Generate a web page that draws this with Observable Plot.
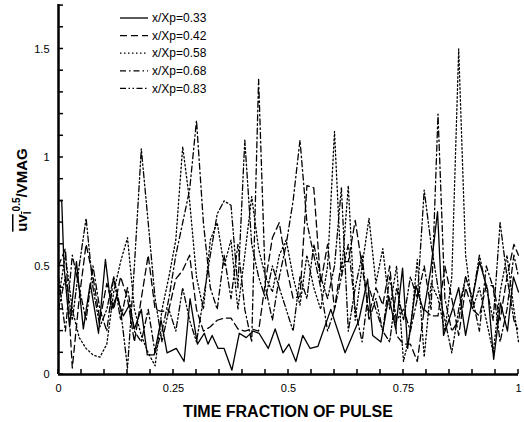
<!DOCTYPE html>
<html><head><meta charset="utf-8">
<script src="https://cdn.jsdelivr.net/npm/d3@7"></script>
<script src="https://cdn.jsdelivr.net/npm/@observablehq/plot@0.6"></script>
<style>
body{margin:0;background:#fff;}
#chart svg{display:block;}
</style></head><body><div id="chart"></div>
<script>
const seriesLabels = ["x/Xp=0.33","x/Xp=0.42","x/Xp=0.58","x/Xp=0.68","x/Xp=0.83"];
const xTickLabels = [0, 0.25, 0.5, 0.75, 1];
const yTickLabels = [0, 0.5, 1, 1.5];
const xMinorTicks = [0,0.05,0.1,0.15,0.2,0.25,0.3,0.35,0.4,0.45,0.5,0.55,0.6,0.65,0.7,0.75,0.8,0.85,0.9,0.95,1];
const yMinorTicks = [0,0.1,0.2,0.3,0.4,0.5,0.6,0.7,0.8,0.9,1,1.1,1.2,1.3,1.4,1.5,1.6,1.7];

// x/Xp=0.33 (solid), traced points
const t33 = [0,0.007,0.012,0.024,0.039,0.054,0.069,0.087,0.102,0.115,0.126,0.141,0.154,0.165,0.180,0.193,0.208,0.223,0.236,0.256,0.273,0.286,0.302,0.317,0.325,0.334,0.347,0.360,0.377,0.393,0.408,0.423,0.436,0.456,0.471,0.488,0.501,0.516,0.531,0.547,0.564,0.592,0.623,0.653,0.672,0.683,0.701,0.718,0.733,0.748,0.759,0.777,0.794,0.809,0.824,0.837,0.855,0.870,0.885,0.915,0.933,0.946,0.961,0.976,0.989,1.0];
const v33 = [0.80,0.80,0.50,0.22,0.52,0.21,0.42,0.19,0.53,0.30,0.36,0.27,0.32,0.21,0.30,0.09,0.09,0.25,0.10,0.12,0.06,0.35,0.14,0.19,0.14,0.18,0.12,0.12,0.02,0.19,0.17,0.20,0.19,0.12,0.21,0.10,0.14,0.06,0.18,0.12,0.13,0.30,0.10,0.25,0.44,0.18,0.15,0.36,0.21,0.49,0.12,0.41,0.29,0.48,0.75,0.18,0.29,0.40,0.18,0.52,0.39,0.07,0.33,0.20,0.45,0.38];

// shared sampling for the other stations
const tGrid = [0,0.015,0.03,0.045,0.06,0.075,0.09,0.105,0.12,0.135,0.15,0.165,0.18,0.195,0.21,0.225,0.24,0.255,0.27,0.285,0.3,0.315,0.33,0.345,0.36,0.375,0.39,0.405,0.42,0.435,0.45,0.465,0.48,0.495,0.51,0.525,0.54,0.555,0.57,0.585,0.6,0.615,0.63,0.645,0.66,0.675,0.69,0.705,0.72,0.735,0.75,0.765,0.78,0.795,0.81,0.825,0.84,0.855,0.87,0.885,0.9,0.915,0.93,0.945,0.96,0.975,0.99,1];
const v42 = [0.50,0.58,0.03,0.35,0.60,0.45,0.25,0.42,0.30,0.45, 0.35,0.15,0.35,0.55,0.30,0.29,0.30,0.44,0.48,0.55, 0.30,0.20,0.22,0.25,0.26,0.26,0.21,0.20,0.21,0.20, 0.43,0.63,0.70,0.50,0.35,0.36,0.87,0.86,0.42,0.60, 0.30,0.52,0.52,0.71,0.50,0.28,0.40,0.32,0.50,0.18, 0.14,0.14,0.06,0.30,0.27,0.27,0.50,0.35,0.18,0.40, 0.30,0.27,0.41,0.41,0.25,0.45,0.60,0.55];
const v58 = [0.35,0.55,0.30,0.17,0.12,0.09,0.08,0.14,0.38,0.52, 0.63,0.30,0.18,0.10,0.04,0.30,0.45,0.62,1.05,0.80, 0.45,0.30,0.62,0.70,0.50,0.62,0.30,0.55,0.82,0.58, 0.45,0.38,0.55,0.62,0.45,0.32,0.55,0.40,0.30,0.50, 1.12,0.45,0.87,0.25,0.50,0.72,0.42,0.58,0.30,0.50, 0.06,0.20,0.53,0.08,0.42,0.35,0.20,0.45,1.50,0.55, 0.30,0.40,0.25,0.10,0.38,0.55,0.30,0.15];
const v68 = [0.45,0.20,0.55,0.40,0.25,0.50,0.30,0.20,0.45,0.25, 0.40,0.20,0.15,0.30,0.10,0.20,0.35,0.55,0.70,0.85, 1.17,0.70,0.40,0.30,0.55,0.35,0.60,0.30,0.15,1.36, 0.40,0.25,0.45,0.60,0.80,1.08,0.70,0.55,0.40,0.20, 0.30,0.45,0.60,0.30,0.15,0.40,0.30,0.20,0.45,0.25, 0.30,0.20,0.35,0.50,0.30,1.20,0.35,0.20,0.25,0.45, 0.35,0.20,0.50,0.40,0.15,0.30,0.55,0.45];
const v83 = [0.30,0.45,0.25,0.50,0.72,0.40,0.22,0.30,0.45,0.30, 0.03,0.50,1.04,0.70,0.35,0.15,0.30,0.20,0.40,0.25, 0.15,0.35,0.55,0.74,0.80,0.78,0.40,1.08,0.60,0.45, 0.35,0.50,0.40,0.30,0.20,0.45,0.35,0.60,0.45,0.35, 0.50,0.86,0.20,0.40,0.55,0.25,0.35,0.20,0.15,0.40, 0.25,0.45,0.35,0.85,0.60,0.40,0.25,0.10,0.30,0.45, 0.35,0.55,0.40,0.25,0.70,0.45,0.25,0.20];

const dashes = [null, "7,4", "1.5,2.5", "6,3,1.5,3", "6,2.5,1.5,2.5,1.5,2.5"];
const seriesData = [
  [t33, v33], [tGrid, v42], [tGrid, v58], [tGrid, v68], [tGrid, v83]
].map(([ts, vs], i) => ts.map((t, j) => ({t, v: vs[j], s: seriesLabels[i]})));

const font = "'Liberation Sans', Arial, sans-serif";
const chart = Plot.plot({
  width: 524, height: 422,
  marginTop: 4, marginBottom: 48, marginLeft: 58, marginRight: 6,
  style: {fontFamily: font, fontSize: "11px", color: "black", background: "white"},
  x: {domain: [0, 1]},
  y: {domain: [0, 1.705]},
  marks: [
    ...seriesData.map((d, i) => Plot.line(d, {x: "t", y: "v", stroke: "black", strokeWidth: 1.3, strokeDasharray: dashes[i]})),
    Plot.axisX(xTickLabels, {tickSize: 0, tickPadding: 10, label: null, tickFormat: d => String(d)}),
    Plot.axisY(yTickLabels, {tickSize: 0, tickPadding: 9, label: null, tickFormat: d => String(d)}),
    Plot.ruleX([0], {strokeWidth: 2.5}),
    Plot.ruleY([0], {strokeWidth: 2.5})
  ]
});
document.getElementById("chart").appendChild(chart);

const svg = d3.select(chart);
const sx = chart.scale("x"), sy = chart.scale("y");
const x0 = sx.apply(0), y0 = sy.apply(0);
// minor ticks (inward)
svg.append("g").selectAll("line").data(xMinorTicks).join("line")
  .attr("x1", d => sx.apply(d)).attr("x2", d => sx.apply(d))
  .attr("y1", y0).attr("y2", y0 - 5).attr("stroke", "black").attr("stroke-width", 1.5);
svg.append("g").selectAll("line").data(yMinorTicks).join("line")
  .attr("x1", x0).attr("x2", x0 + 5)
  .attr("y1", d => sy.apply(d)).attr("y2", d => sy.apply(d)).attr("stroke", "black").attr("stroke-width", 1.5);

// x title
svg.append("text").attr("x", (sx.apply(0) + sx.apply(1)) / 2).attr("y", 417)
  .attr("text-anchor", "middle").attr("font-family", font).attr("font-weight", "bold")
  .attr("font-size", 16).text("TIME FRACTION OF PULSE");

// y title
const yt = svg.append("text").attr("transform", "translate(27,190) rotate(-90)")
  .attr("text-anchor", "middle").attr("font-family", font).attr("font-weight", "bold").attr("font-size", 15);
const ov = yt.append("tspan").style("text-decoration", "overline");
ov.append("tspan").text("uv");
ov.append("tspan").attr("font-size", 10).attr("dy", 4).text("l");
yt.append("tspan").attr("font-size", 10).attr("dy", -11).text("0.5");
yt.append("tspan").attr("dy", 7).text("/VMAG");

// legend
const lg = svg.append("g").attr("font-family", font).attr("font-size", 12).attr("text-anchor", "start");
seriesLabels.forEach((lab, i) => {
  const y = 18 + i * 17.6;
  lg.append("line").attr("x1", 120).attr("x2", 148).attr("y1", y).attr("y2", y)
    .attr("stroke", "black").attr("stroke-width", 1.3).attr("stroke-dasharray", dashes[i]);
  lg.append("text").attr("x", 152).attr("y", y).attr("dy", "0.35em").text(lab);
});
</script></body></html>
